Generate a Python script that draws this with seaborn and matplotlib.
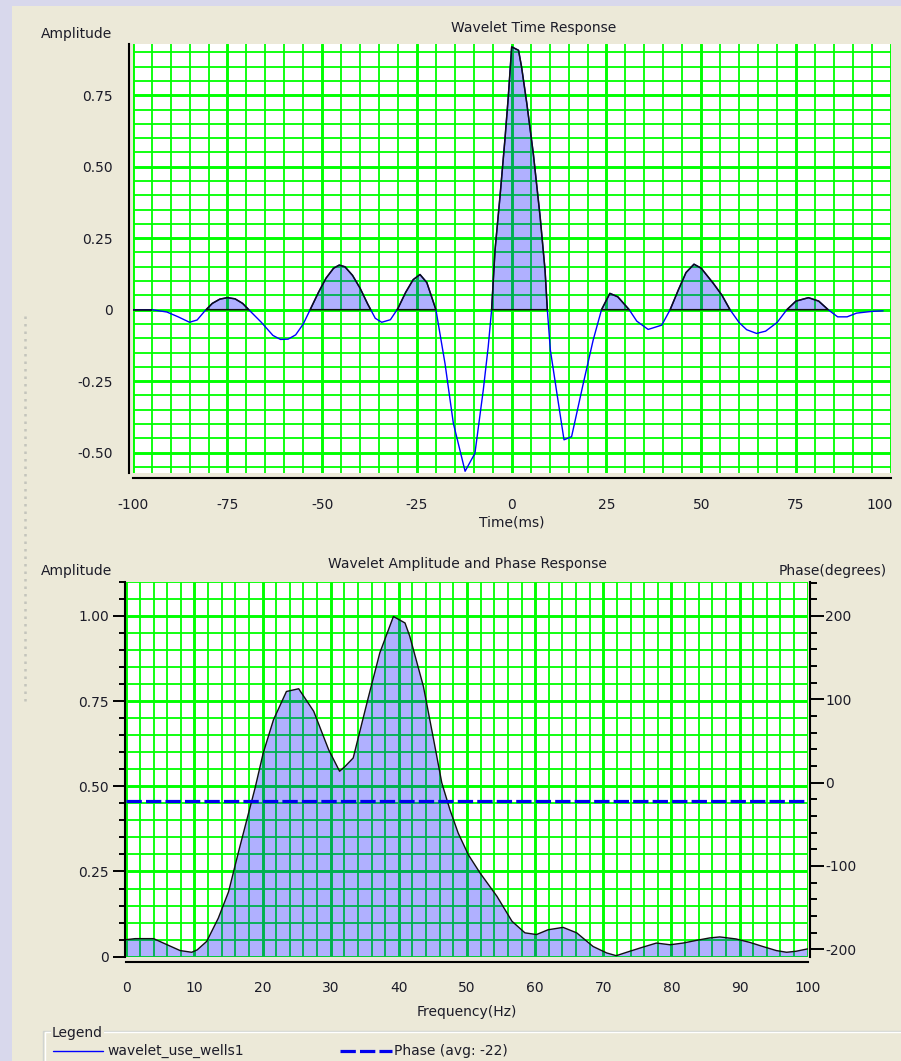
import numpy as np
import matplotlib
matplotlib.use("Agg")
import matplotlib.pyplot as plt
from matplotlib.lines import Line2D
from matplotlib.patches import Rectangle
from matplotlib.ticker import MultipleLocator, FixedLocator, FixedFormatter
from matplotlib.transforms import ScaledTranslation
import seaborn as sns

# ---- wavelet time response ----
time_ms = [-100, -95, -91, -88, -85, -83, -81, -79, -77, -75, -73, -71, -69, -66,
           -63, -61, -59, -57, -55, -53, -51, -49, -47, -45.5, -44, -42, -40, -38,
           -36, -34.3, -32, -30, -28, -26, -24.2, -22.4, -21, -20, -17.6, -15.4,
           -12.3, -9.7, -7.5, -6.2, -5.3, -4.4, -3.1, -1.8, -0.9, 0, 1.8, 2.6, 4.0,
           5.7, 7.5, 8.8, 9.4, 10.2, 11.9, 13.8, 15.8, 18.9, 21.5, 23.7, 25.9, 28,
           31, 33, 36, 39.6, 41.8, 44, 46, 48.1, 50, 53.2, 55.5, 57.6, 60, 62, 64.6,
           67, 70, 72.6, 75, 78.3, 81, 83.5, 86, 88.5, 91, 95, 98]
time_amp = [0.0, 0.0, -0.008, -0.025, -0.044, -0.036, -0.005, 0.022, 0.037, 0.042,
            0.038, 0.022, -0.005, -0.045, -0.09, -0.104, -0.103, -0.088, -0.05,
            0.005, 0.06, 0.11, 0.145, 0.156, 0.15, 0.12, 0.075, 0.02, -0.03, -0.044,
            -0.035, 0.005, 0.06, 0.105, 0.123, 0.095, 0.04, 0.0, -0.188, -0.397,
            -0.565, -0.502, -0.281, -0.13, 0.0, 0.208, 0.394, 0.593, 0.744, 0.919,
            0.907, 0.849, 0.72, 0.546, 0.325, 0.138, 0.0, -0.141, -0.29, -0.455,
            -0.444, -0.257, -0.106, 0.0, 0.057, 0.045, 0.0, -0.04, -0.069, -0.054,
            0.0, 0.07, 0.13, 0.159, 0.145, 0.092, 0.05, 0.0, -0.045, -0.07, -0.083,
            -0.075, -0.045, 0.0, 0.03, 0.042, 0.03, 0.0, -0.025, -0.025, -0.012,
            -0.006, -0.004]

# ---- wavelet amplitude spectrum ----
freq_hz = [0, 1.3, 4.0, 6.0, 7.9, 9.6, 10.4, 11.8, 13.5, 15.0, 16.5, 18.9, 20.1,
           21.6, 23.5, 25.3, 27.5, 29.7, 31.3, 32.1, 33.3, 35.5, 37.2, 39.2, 40.9,
           41.6, 43.6, 45.1, 46.3, 47.5, 48.7, 50.2, 51.9, 54.4, 56.6, 58.5, 60.2,
           61.9, 64.1, 66.1, 68.5, 70.5, 71.9, 73.9, 75.8, 77.8, 79.8, 81.7, 83.7,
           85.6, 87.1, 89.5, 91.5, 93.4, 95.4, 96.9, 98.3, 100]
freq_amp = [0.05, 0.053, 0.053, 0.035, 0.018, 0.013, 0.02, 0.045, 0.113, 0.19,
            0.31, 0.495, 0.598, 0.695, 0.778, 0.786, 0.72, 0.607, 0.544, 0.558,
            0.583, 0.759, 0.891, 0.998, 0.979, 0.94, 0.793, 0.637, 0.51, 0.431,
            0.363, 0.299, 0.246, 0.177, 0.104, 0.07, 0.065, 0.079, 0.086, 0.07,
            0.03, 0.011, 0.003, 0.016, 0.028, 0.04, 0.035, 0.04, 0.048, 0.055,
            0.058, 0.052, 0.042, 0.03, 0.018, 0.013, 0.016, 0.023]

PHASE_AVG = -22
phase_freq = [0, 100]
phase_deg = [PHASE_AVG, PHASE_AVG]

time_ticks = [-100, -75, -50, -25, 0, 25, 50, 75, 100]
time_tick_labels = ["-100", "-75", "-50", "-25", "0", "25", "50", "75", "100"]
amp_ticks_top = [-0.5, -0.25, 0, 0.25, 0.5, 0.75]
amp_labels_top = ["-0.50", "-0.25", "0", "0.25", "0.50", "0.75"]
freq_ticks = list(range(0, 101, 10))
amp_ticks_bot = [0, 0.25, 0.5, 0.75, 1.0]
amp_labels_bot = ["0", "0.25", "0.50", "0.75", "1.00"]
phase_ticks = [-200, -100, 0, 100, 200]
phase_labels = ["-200", "-100", "0", "100", "200"]

# ---- styling ----
W, H = 901, 1061
BEIGE = "#ECE9D8"
LAVENDER = "#D8D8EC"
GREEN = "#00FF00"
FILL = (0.0, 0.0, 1.0, 0.31)
TXT = "#1C1C28"
FS = 10

sns.set_style("white")
plt.rcParams["font.family"] = ["DejaVu Sans"]
plt.rcParams["font.size"] = FS


def fx(x):
    return x / W


def fy(y):
    return 1 - y / H


def axes_rect(left, top, right, bottom):
    return [fx(left), fy(bottom), (right - left) / W, (bottom - top) / H]


fig = plt.figure(figsize=(W / 100, H / 100), dpi=100, facecolor=BEIGE)
fig.patches.append(Rectangle((0, 0), fx(12), 1, transform=fig.transFigure,
                             facecolor=LAVENDER, edgecolor="none", zorder=-5))
fig.patches.append(Rectangle((0, fy(6)), 1, 6 / H, transform=fig.transFigure,
                             facecolor=LAVENDER, edgecolor="none", zorder=-5))
fig.lines.append(Line2D([fx(25), fx(25)], [fy(316), fy(703)], transform=fig.transFigure,
                        color="#C4C4BC", lw=1.8, linestyle=(0, (1, 2))))


def style_grid(ax):
    ax.set_facecolor("white")
    ax.set_axisbelow(True)
    ax.grid(which="major", color=GREEN, lw=2.1)
    ax.grid(which="minor", color=GREEN, lw=1.3)
    for s in ["top", "right"]:
        ax.spines[s].set_visible(False)
    for s in ["left", "bottom"]:
        ax.spines[s].set_color("black")
        ax.spines[s].set_linewidth(1.5)
    ax.tick_params(which="major", length=8.5, width=1.4, color="black",
                   labelcolor=TXT, labelsize=FS)
    ax.tick_params(which="minor", length=4.3, width=1.4, color="black")


# ---- top: time response ----
ax1 = fig.add_axes(axes_rect(132.7, 44.3, 890.7, 472.7))
style_grid(ax1)
ax1.spines["left"].set_position(("outward", 2.6))
ax1.spines["bottom"].set_position(("outward", 4))
ax1.set_xlim(-100, 100)
ax1.set_ylim(-0.57, 0.928)
ax1.xaxis.set_major_locator(FixedLocator(time_ticks))
ax1.xaxis.set_major_formatter(FixedFormatter(time_tick_labels))
ax1.xaxis.set_minor_locator(MultipleLocator(5))
ax1.yaxis.set_major_locator(FixedLocator(amp_ticks_top))
ax1.yaxis.set_major_formatter(FixedFormatter(amp_labels_top))
ax1.yaxis.set_minor_locator(FixedLocator(np.arange(-0.55, 0.93, 0.05)))
ax1.tick_params(axis="x", which="major", pad=6)
ax1.tick_params(axis="y", which="major", pad=3)

sns.lineplot(x=time_ms, y=time_amp, ax=ax1, color="blue", lw=1.0,
             estimator=None, sort=False, zorder=2)
t_arr = np.asarray(time_ms)
a_arr = np.asarray(time_amp)
ax1.fill_between(t_arr, 0, a_arr, where=a_arr >= 0, interpolate=True,
                 facecolor=FILL, edgecolor="#101010", lw=1.1, zorder=3)
ax1.set_xlabel("")
ax1.set_ylabel("")

# the last time label sits inside the panel edge
last_tick = ax1.xaxis.get_major_ticks()[-1]
last_tick.label1.set_horizontalalignment("right")
last_tick.label1.set_transform(last_tick.label1.get_transform()
                               + ScaledTranslation(0.025, 0, fig.dpi_scale_trans))

fig.text(fx(533.5), fy(28.3), "Wavelet Time Response", ha="center", va="center",
         color=TXT, fontsize=FS)
fig.text(fx(41), fy(34), "Amplitude", ha="left", va="center", color=TXT, fontsize=FS)
fig.text(fx(511.7), fy(523), "Time(ms)", ha="center", va="center", color=TXT, fontsize=FS)

# ---- bottom: amplitude and phase spectrum ----
ax2 = fig.add_axes(axes_rect(126.3, 581.7, 807.7, 956.7))
style_grid(ax2)
ax2.spines["left"].set_position(("outward", 1))
ax2.spines["bottom"].set_position(("outward", 4))
ax2.set_xlim(0, 100)
ax2.set_ylim(0, 1.1)
ax2.xaxis.set_major_locator(FixedLocator(freq_ticks))
ax2.xaxis.set_minor_locator(MultipleLocator(2))
ax2.yaxis.set_major_locator(FixedLocator(amp_ticks_bot))
ax2.yaxis.set_major_formatter(FixedFormatter(amp_labels_bot))
ax2.yaxis.set_minor_locator(FixedLocator(np.arange(0.05, 1.11, 0.05)))
ax2.tick_params(axis="x", which="major", pad=5)
ax2.tick_params(axis="y", which="major", pad=3)

f_arr = np.asarray(freq_hz)
fa_arr = np.asarray(freq_amp)
ax2.fill_between(f_arr, 0, fa_arr, facecolor=FILL, edgecolor="none", zorder=2)
sns.lineplot(x=freq_hz, y=freq_amp, ax=ax2, color="#101010", lw=1.0,
             estimator=None, sort=False, zorder=3)
ax2.set_xlabel("")
ax2.set_ylabel("")

ax3 = ax2.twinx()
ax3.set_ylim(-209, 241)
for s in ["top", "left", "bottom"]:
    ax3.spines[s].set_visible(False)
ax3.spines["right"].set_color("black")
ax3.spines["right"].set_linewidth(1.5)
ax3.spines["right"].set_position(("outward", 1.5))
ax3.yaxis.set_major_locator(FixedLocator(phase_ticks))
ax3.yaxis.set_major_formatter(FixedFormatter(phase_labels))
ax3.yaxis.set_minor_locator(FixedLocator(np.arange(-180, 241, 20)))
ax3.tick_params(which="major", length=10, width=1.4, color="black",
                labelcolor=TXT, labelsize=FS, pad=1)
ax3.tick_params(which="minor", length=5, width=1.4, color="black")
ax3.grid(False)
sns.lineplot(x=phase_freq, y=phase_deg, ax=ax3, color="#0000EE", lw=2.3,
             estimator=None, sort=False, dashes=False, zorder=4)
ax3.lines[-1].set_linestyle((0, (4.8, 1.3)))
ax3.set_ylabel("")
ax3.set_xlim(0, 100)

fig.text(fx(467), fy(564), "Wavelet Amplitude and Phase Response", ha="center",
         va="center", color=TXT, fontsize=FS)
fig.text(fx(41), fy(570.7), "Amplitude", ha="left", va="center", color=TXT, fontsize=FS)
fig.text(fx(887), fy(570.7), "Phase(degrees)", ha="right", va="center", color=TXT,
         fontsize=FS)
fig.text(fx(467), fy(1011.7), "Frequency(Hz)", ha="center", va="center", color=TXT,
         fontsize=FS)

# ---- legend panel ----
fig.patches.append(Rectangle((fx(43), fy(1075)), (910 - 43) / W, (1075 - 1031) / H,
                             transform=fig.transFigure, facecolor="none",
                             edgecolor="#D0D4D0", lw=1.0))
fig.patches.append(Rectangle((fx(44.5), fy(1075)), (910 - 44.5) / W, (1075 - 1032.5) / H,
                             transform=fig.transFigure, facecolor="none",
                             edgecolor="white", lw=1.0))
fig.text(fx(52), fy(1032.5), "Legend", ha="left", va="center", color=TXT, fontsize=FS,
         bbox=dict(facecolor=BEIGE, edgecolor="none", pad=0.5))
fig.lines.append(Line2D([fx(53), fx(103)], [fy(1051), fy(1051)], transform=fig.transFigure,
                        color="blue", lw=1.0))
fig.text(fx(107), fy(1050.5), "wavelet_use_wells1", ha="left", va="center", color=TXT,
         fontsize=FS)
fig.lines.append(Line2D([fx(340), fx(392)], [fy(1051), fy(1051)], transform=fig.transFigure,
                        color="#0000EE", lw=2.3, linestyle=(0, (4.8, 1.3))))
fig.text(fx(394), fy(1050.5), f"Phase (avg: {PHASE_AVG})", ha="left", va="center",
         color=TXT, fontsize=FS)

fig.savefig("out.png", dpi=100, facecolor=BEIGE)
